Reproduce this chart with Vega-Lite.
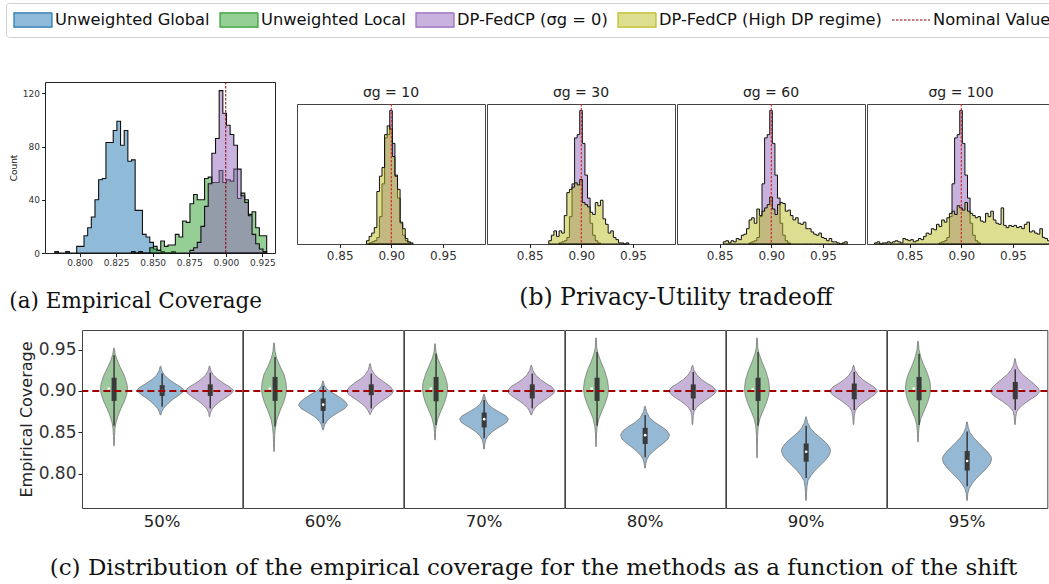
{
"$schema": "https://vega.github.io/schema/vega-lite/v6.json",
"padding": {"left": 5, "top": 2, "right": 0, "bottom": 0},
"config": {
  "font": "DejaVu Sans",
  "view": {"stroke": "#222", "strokeWidth": 1},
  "axis": {"grid": false, "labelColor": "#333", "titleColor": "#222", "tickColor": "#222", "domainColor": "#222", "titleFontWeight": "normal", "labelFont": "DejaVu Sans", "titleFont": "DejaVu Sans"}
},
"resolve": {"scale": {"color": "shared"}},
"spacing": 16,
"datasets": {
  "aBlue": [{"coverage":0.783,"count":1},{"coverage":0.7855,"count":0},{"coverage":0.7905,"count":1},{"coverage":0.793,"count":0},{"coverage":0.798,"count":5},{"coverage":0.8005,"count":5},{"coverage":0.803,"count":13},{"coverage":0.8055,"count":19},{"coverage":0.808,"count":27},{"coverage":0.8105,"count":40},{"coverage":0.813,"count":55},{"coverage":0.8155,"count":56},{"coverage":0.818,"count":83},{"coverage":0.8205,"count":83},{"coverage":0.823,"count":92},{"coverage":0.8255,"count":99},{"coverage":0.828,"count":81},{"coverage":0.8305,"count":92},{"coverage":0.833,"count":69},{"coverage":0.8355,"count":70},{"coverage":0.838,"count":32},{"coverage":0.8405,"count":32},{"coverage":0.843,"count":14},{"coverage":0.8455,"count":12},{"coverage":0.848,"count":8},{"coverage":0.8505,"count":3},{"coverage":0.853,"count":2},{"coverage":0.8555,"count":1},{"coverage":0.858,"count":0},{"coverage":0.863,"count":1},{"coverage":0.8655,"count":0}],
  "aGreen": [{"coverage":0.8355,"count":1},{"coverage":0.838,"count":0},{"coverage":0.8405,"count":1},{"coverage":0.843,"count":0},{"coverage":0.848,"count":4},{"coverage":0.8505,"count":5},{"coverage":0.853,"count":2},{"coverage":0.8555,"count":9},{"coverage":0.858,"count":5},{"coverage":0.8605,"count":6},{"coverage":0.863,"count":6},{"coverage":0.8655,"count":14},{"coverage":0.868,"count":12},{"coverage":0.8705,"count":24},{"coverage":0.873,"count":23},{"coverage":0.8755,"count":37},{"coverage":0.878,"count":44},{"coverage":0.8805,"count":40},{"coverage":0.883,"count":40},{"coverage":0.8855,"count":56},{"coverage":0.888,"count":57},{"coverage":0.8905,"count":53},{"coverage":0.893,"count":53},{"coverage":0.8955,"count":62},{"coverage":0.898,"count":53},{"coverage":0.9005,"count":55},{"coverage":0.903,"count":54},{"coverage":0.9055,"count":63},{"coverage":0.908,"count":41},{"coverage":0.9105,"count":45},{"coverage":0.913,"count":40},{"coverage":0.9155,"count":29},{"coverage":0.918,"count":31},{"coverage":0.9205,"count":19},{"coverage":0.923,"count":13},{"coverage":0.9255,"count":13},{"coverage":0.928,"count":0}],
  "aPurple": [{"coverage":0.8755,"count":2},{"coverage":0.878,"count":4},{"coverage":0.8805,"count":8},{"coverage":0.883,"count":20},{"coverage":0.8855,"count":35},{"coverage":0.888,"count":52},{"coverage":0.8905,"count":75},{"coverage":0.893,"count":86},{"coverage":0.8955,"count":122},{"coverage":0.898,"count":105},{"coverage":0.9005,"count":96},{"coverage":0.903,"count":89},{"coverage":0.9055,"count":81},{"coverage":0.908,"count":63},{"coverage":0.9105,"count":43},{"coverage":0.913,"count":38},{"coverage":0.9155,"count":28},{"coverage":0.918,"count":14},{"coverage":0.9205,"count":7},{"coverage":0.923,"count":3},{"coverage":0.9255,"count":1},{"coverage":0.928,"count":0}],
  "bPurple": [{"coverage":0.8785,"count":1},{"coverage":0.881,"count":2},{"coverage":0.8835,"count":3},{"coverage":0.886,"count":6},{"coverage":0.8885,"count":25},{"coverage":0.891,"count":55},{"coverage":0.8935,"count":97},{"coverage":0.896,"count":100},{"coverage":0.8985,"count":122},{"coverage":0.901,"count":92},{"coverage":0.9035,"count":63},{"coverage":0.906,"count":42},{"coverage":0.9085,"count":19},{"coverage":0.911,"count":8},{"coverage":0.9135,"count":3},{"coverage":0.916,"count":1},{"coverage":0.9185,"count":0}],
  "b10": [{"coverage":0.876,"count":3},{"coverage":0.8785,"count":7},{"coverage":0.881,"count":10},{"coverage":0.8835,"count":15},{"coverage":0.886,"count":48},{"coverage":0.8885,"count":62},{"coverage":0.891,"count":70},{"coverage":0.8935,"count":100},{"coverage":0.896,"count":108},{"coverage":0.8985,"count":105},{"coverage":0.901,"count":80},{"coverage":0.9035,"count":62},{"coverage":0.906,"count":50},{"coverage":0.9085,"count":20},{"coverage":0.911,"count":14},{"coverage":0.9135,"count":5},{"coverage":0.916,"count":2},{"coverage":0.9185,"count":1},{"coverage":0.921,"count":0}],
  "b30": [{"coverage":0.8685,"count":3},{"coverage":0.871,"count":8},{"coverage":0.8735,"count":12},{"coverage":0.876,"count":7},{"coverage":0.8785,"count":12},{"coverage":0.881,"count":10},{"coverage":0.8835,"count":26},{"coverage":0.886,"count":47},{"coverage":0.8885,"count":50},{"coverage":0.891,"count":52},{"coverage":0.8935,"count":56},{"coverage":0.896,"count":54},{"coverage":0.8985,"count":59},{"coverage":0.901,"count":38},{"coverage":0.9035,"count":36},{"coverage":0.906,"count":34},{"coverage":0.9085,"count":29},{"coverage":0.911,"count":27},{"coverage":0.9135,"count":38},{"coverage":0.916,"count":35},{"coverage":0.9185,"count":40},{"coverage":0.921,"count":23},{"coverage":0.9235,"count":18},{"coverage":0.926,"count":10},{"coverage":0.9285,"count":12},{"coverage":0.931,"count":6},{"coverage":0.9335,"count":4},{"coverage":0.936,"count":1},{"coverage":0.9385,"count":1},{"coverage":0.941,"count":0},{"coverage":0.9435,"count":1},{"coverage":0.946,"count":0}],
  "b60": [{"coverage":0.8535,"count":2},{"coverage":0.856,"count":3},{"coverage":0.8585,"count":1},{"coverage":0.861,"count":3},{"coverage":0.8635,"count":2},{"coverage":0.866,"count":5},{"coverage":0.8685,"count":4},{"coverage":0.871,"count":8},{"coverage":0.8735,"count":9},{"coverage":0.876,"count":14},{"coverage":0.8785,"count":22},{"coverage":0.881,"count":24},{"coverage":0.8835,"count":19},{"coverage":0.886,"count":32},{"coverage":0.8885,"count":26},{"coverage":0.891,"count":30},{"coverage":0.8935,"count":33},{"coverage":0.896,"count":36},{"coverage":0.8985,"count":43},{"coverage":0.901,"count":32},{"coverage":0.9035,"count":27},{"coverage":0.906,"count":36},{"coverage":0.9085,"count":38},{"coverage":0.911,"count":37},{"coverage":0.9135,"count":30},{"coverage":0.916,"count":31},{"coverage":0.9185,"count":26},{"coverage":0.921,"count":22},{"coverage":0.9235,"count":24},{"coverage":0.926,"count":19},{"coverage":0.9285,"count":18},{"coverage":0.931,"count":20},{"coverage":0.9335,"count":14},{"coverage":0.936,"count":14},{"coverage":0.9385,"count":11},{"coverage":0.941,"count":9},{"coverage":0.9435,"count":8},{"coverage":0.946,"count":10},{"coverage":0.9485,"count":6},{"coverage":0.951,"count":5},{"coverage":0.9535,"count":3},{"coverage":0.956,"count":5},{"coverage":0.9585,"count":2},{"coverage":0.961,"count":2},{"coverage":0.9635,"count":1},{"coverage":0.966,"count":0},{"coverage":0.9685,"count":1},{"coverage":0.971,"count":2},{"coverage":0.9735,"count":0}],
  "b100": [{"coverage":0.816,"count":1},{"coverage":0.8185,"count":2},{"coverage":0.821,"count":0},{"coverage":0.8235,"count":1},{"coverage":0.826,"count":1},{"coverage":0.8285,"count":2},{"coverage":0.831,"count":1},{"coverage":0.8335,"count":2},{"coverage":0.836,"count":3},{"coverage":0.8385,"count":2},{"coverage":0.841,"count":1},{"coverage":0.8435,"count":5},{"coverage":0.846,"count":4},{"coverage":0.8485,"count":3},{"coverage":0.851,"count":4},{"coverage":0.8535,"count":2},{"coverage":0.856,"count":3},{"coverage":0.8585,"count":5},{"coverage":0.861,"count":4},{"coverage":0.8635,"count":7},{"coverage":0.866,"count":10},{"coverage":0.8685,"count":9},{"coverage":0.871,"count":14},{"coverage":0.8735,"count":13},{"coverage":0.876,"count":18},{"coverage":0.8785,"count":16},{"coverage":0.881,"count":22},{"coverage":0.8835,"count":20},{"coverage":0.886,"count":24},{"coverage":0.8885,"count":28},{"coverage":0.891,"count":30},{"coverage":0.8935,"count":27},{"coverage":0.896,"count":35},{"coverage":0.8985,"count":33},{"coverage":0.901,"count":31},{"coverage":0.9035,"count":38},{"coverage":0.906,"count":30},{"coverage":0.9085,"count":28},{"coverage":0.911,"count":26},{"coverage":0.9135,"count":24},{"coverage":0.916,"count":25},{"coverage":0.9185,"count":21},{"coverage":0.921,"count":20},{"coverage":0.9235,"count":28},{"coverage":0.926,"count":25},{"coverage":0.9285,"count":30},{"coverage":0.931,"count":22},{"coverage":0.9335,"count":19},{"coverage":0.936,"count":18},{"coverage":0.9385,"count":33},{"coverage":0.941,"count":17},{"coverage":0.9435,"count":15},{"coverage":0.946,"count":17},{"coverage":0.9485,"count":16},{"coverage":0.951,"count":17},{"coverage":0.9535,"count":15},{"coverage":0.956,"count":16},{"coverage":0.9585,"count":14},{"coverage":0.961,"count":18},{"coverage":0.9635,"count":20},{"coverage":0.966,"count":11},{"coverage":0.9685,"count":12},{"coverage":0.971,"count":10},{"coverage":0.9735,"count":9},{"coverage":0.976,"count":14},{"coverage":0.9785,"count":6},{"coverage":0.981,"count":5},{"coverage":0.9835,"count":3},{"coverage":0.986,"count":2},{"coverage":0.9885,"count":0}],
  "violin": [
{"shift":"50%","method":"local","coverage":0.9517,"density":0.5},{"shift":"50%","method":"local","coverage":0.944,"density":2.5},{"shift":"50%","method":"local","coverage":0.936,"density":7},{"shift":"50%","method":"local","coverage":0.928,"density":13},{"shift":"50%","method":"local","coverage":0.918,"density":21},{"shift":"50%","method":"local","coverage":0.908,"density":26},{"shift":"50%","method":"local","coverage":0.903,"density":27},{"shift":"50%","method":"local","coverage":0.896,"density":25.5},{"shift":"50%","method":"local","coverage":0.888,"density":21},{"shift":"50%","method":"local","coverage":0.879,"density":14},{"shift":"50%","method":"local","coverage":0.870,"density":8},{"shift":"50%","method":"local","coverage":0.862,"density":4},{"shift":"50%","method":"local","coverage":0.855,"density":2},{"shift":"50%","method":"local","coverage":0.845,"density":1},{"shift":"50%","method":"local","coverage":0.834,"density":0.5},
{"shift":"50%","method":"global","coverage":0.930,"density":0.5},{"shift":"50%","method":"global","coverage":0.924,"density":3},{"shift":"50%","method":"global","coverage":0.919,"density":8},{"shift":"50%","method":"global","coverage":0.914,"density":17},{"shift":"50%","method":"global","coverage":0.909,"density":29},{"shift":"50%","method":"global","coverage":0.905,"density":40},{"shift":"50%","method":"global","coverage":0.902,"density":46},{"shift":"50%","method":"global","coverage":0.899,"density":45},{"shift":"50%","method":"global","coverage":0.895,"density":37},{"shift":"50%","method":"global","coverage":0.891,"density":27},{"shift":"50%","method":"global","coverage":0.887,"density":19},{"shift":"50%","method":"global","coverage":0.883,"density":12},{"shift":"50%","method":"global","coverage":0.879,"density":6},{"shift":"50%","method":"global","coverage":0.875,"density":2.5},{"shift":"50%","method":"global","coverage":0.871,"density":0.5},
{"shift":"50%","method":"dp","coverage":0.930,"density":0.5},{"shift":"50%","method":"dp","coverage":0.924,"density":3},{"shift":"50%","method":"dp","coverage":0.919,"density":8},{"shift":"50%","method":"dp","coverage":0.914,"density":17},{"shift":"50%","method":"dp","coverage":0.909,"density":29},{"shift":"50%","method":"dp","coverage":0.905,"density":40},{"shift":"50%","method":"dp","coverage":0.901,"density":48},{"shift":"50%","method":"dp","coverage":0.897,"density":44},{"shift":"50%","method":"dp","coverage":0.893,"density":35},{"shift":"50%","method":"dp","coverage":0.889,"density":25},{"shift":"50%","method":"dp","coverage":0.885,"density":16},{"shift":"50%","method":"dp","coverage":0.881,"density":9},{"shift":"50%","method":"dp","coverage":0.877,"density":4},{"shift":"50%","method":"dp","coverage":0.873,"density":1.5},{"shift":"50%","method":"dp","coverage":0.869,"density":0.5},
{"shift":"60%","method":"local","coverage":0.958,"density":0.5},{"shift":"60%","method":"local","coverage":0.948,"density":2},{"shift":"60%","method":"local","coverage":0.940,"density":5},{"shift":"60%","method":"local","coverage":0.930,"density":12},{"shift":"60%","method":"local","coverage":0.920,"density":20},{"shift":"60%","method":"local","coverage":0.910,"density":24},{"shift":"60%","method":"local","coverage":0.903,"density":25},{"shift":"60%","method":"local","coverage":0.895,"density":23.5},{"shift":"60%","method":"local","coverage":0.886,"density":19},{"shift":"60%","method":"local","coverage":0.876,"density":12},{"shift":"60%","method":"local","coverage":0.866,"density":6},{"shift":"60%","method":"local","coverage":0.857,"density":3},{"shift":"60%","method":"local","coverage":0.848,"density":1.5},{"shift":"60%","method":"local","coverage":0.838,"density":1},{"shift":"60%","method":"local","coverage":0.827,"density":0.5},
{"shift":"60%","method":"global","coverage":0.912,"density":0.5},{"shift":"60%","method":"global","coverage":0.906,"density":3},{"shift":"60%","method":"global","coverage":0.901,"density":10},{"shift":"60%","method":"global","coverage":0.896,"density":24},{"shift":"60%","method":"global","coverage":0.891,"density":37},{"shift":"60%","method":"global","coverage":0.887,"density":45},{"shift":"60%","method":"global","coverage":0.883,"density":49},{"shift":"60%","method":"global","coverage":0.879,"density":44},{"shift":"60%","method":"global","coverage":0.875,"density":33},{"shift":"60%","method":"global","coverage":0.871,"density":22},{"shift":"60%","method":"global","coverage":0.867,"density":13},{"shift":"60%","method":"global","coverage":0.863,"density":7},{"shift":"60%","method":"global","coverage":0.859,"density":3},{"shift":"60%","method":"global","coverage":0.853,"density":0.5},
{"shift":"60%","method":"dp","coverage":0.933,"density":0.5},{"shift":"60%","method":"dp","coverage":0.926,"density":3},{"shift":"60%","method":"dp","coverage":0.920,"density":9},{"shift":"60%","method":"dp","coverage":0.915,"density":18},{"shift":"60%","method":"dp","coverage":0.910,"density":30},{"shift":"60%","method":"dp","coverage":0.905,"density":41},{"shift":"60%","method":"dp","coverage":0.900,"density":47},{"shift":"60%","method":"dp","coverage":0.896,"density":43},{"shift":"60%","method":"dp","coverage":0.892,"density":34},{"shift":"60%","method":"dp","coverage":0.888,"density":24},{"shift":"60%","method":"dp","coverage":0.884,"density":15},{"shift":"60%","method":"dp","coverage":0.880,"density":8},{"shift":"60%","method":"dp","coverage":0.876,"density":3.5},{"shift":"60%","method":"dp","coverage":0.8716,"density":0.5},
{"shift":"70%","method":"local","coverage":0.957,"density":0.5},{"shift":"70%","method":"local","coverage":0.947,"density":2},{"shift":"70%","method":"local","coverage":0.940,"density":5},{"shift":"70%","method":"local","coverage":0.930,"density":12},{"shift":"70%","method":"local","coverage":0.920,"density":19},{"shift":"70%","method":"local","coverage":0.910,"density":24},{"shift":"70%","method":"local","coverage":0.903,"density":25},{"shift":"70%","method":"local","coverage":0.895,"density":23.5},{"shift":"70%","method":"local","coverage":0.886,"density":19},{"shift":"70%","method":"local","coverage":0.876,"density":12},{"shift":"70%","method":"local","coverage":0.867,"density":6},{"shift":"70%","method":"local","coverage":0.859,"density":2.5},{"shift":"70%","method":"local","coverage":0.850,"density":1},{"shift":"70%","method":"local","coverage":0.841,"density":0.5},
{"shift":"70%","method":"global","coverage":0.896,"density":0.5},{"shift":"70%","method":"global","coverage":0.890,"density":3},{"shift":"70%","method":"global","coverage":0.884,"density":8},{"shift":"70%","method":"global","coverage":0.879,"density":18},{"shift":"70%","method":"global","coverage":0.874,"density":32},{"shift":"70%","method":"global","coverage":0.870,"density":44},{"shift":"70%","method":"global","coverage":0.866,"density":49},{"shift":"70%","method":"global","coverage":0.862,"density":45},{"shift":"70%","method":"global","coverage":0.858,"density":35},{"shift":"70%","method":"global","coverage":0.854,"density":24},{"shift":"70%","method":"global","coverage":0.850,"density":15},{"shift":"70%","method":"global","coverage":0.846,"density":8},{"shift":"70%","method":"global","coverage":0.841,"density":3.5},{"shift":"70%","method":"global","coverage":0.836,"density":1.5},{"shift":"70%","method":"global","coverage":0.830,"density":0.5},
{"shift":"70%","method":"dp","coverage":0.931,"density":0.5},{"shift":"70%","method":"dp","coverage":0.925,"density":3},{"shift":"70%","method":"dp","coverage":0.919,"density":9},{"shift":"70%","method":"dp","coverage":0.914,"density":18},{"shift":"70%","method":"dp","coverage":0.909,"density":30},{"shift":"70%","method":"dp","coverage":0.905,"density":41},{"shift":"70%","method":"dp","coverage":0.900,"density":47.5},{"shift":"70%","method":"dp","coverage":0.896,"density":43},{"shift":"70%","method":"dp","coverage":0.892,"density":34},{"shift":"70%","method":"dp","coverage":0.888,"density":24},{"shift":"70%","method":"dp","coverage":0.884,"density":15},{"shift":"70%","method":"dp","coverage":0.880,"density":8},{"shift":"70%","method":"dp","coverage":0.876,"density":3.5},{"shift":"70%","method":"dp","coverage":0.871,"density":0.5},
{"shift":"80%","method":"local","coverage":0.964,"density":0.5},{"shift":"80%","method":"local","coverage":0.952,"density":1.5},{"shift":"80%","method":"local","coverage":0.945,"density":4},{"shift":"80%","method":"local","coverage":0.935,"density":10},{"shift":"80%","method":"local","coverage":0.925,"density":17},{"shift":"80%","method":"local","coverage":0.913,"density":23},{"shift":"80%","method":"local","coverage":0.903,"density":25},{"shift":"80%","method":"local","coverage":0.895,"density":23.5},{"shift":"80%","method":"local","coverage":0.886,"density":19},{"shift":"80%","method":"local","coverage":0.876,"density":12},{"shift":"80%","method":"local","coverage":0.867,"density":6},{"shift":"80%","method":"local","coverage":0.858,"density":2.5},{"shift":"80%","method":"local","coverage":0.848,"density":1},{"shift":"80%","method":"local","coverage":0.833,"density":0.5},
{"shift":"80%","method":"global","coverage":0.8816,"density":0.5},{"shift":"80%","method":"global","coverage":0.875,"density":3},{"shift":"80%","method":"global","coverage":0.868,"density":9},{"shift":"80%","method":"global","coverage":0.862,"density":20},{"shift":"80%","method":"global","coverage":0.857,"density":33},{"shift":"80%","method":"global","coverage":0.852,"density":44},{"shift":"80%","method":"global","coverage":0.847,"density":49},{"shift":"80%","method":"global","coverage":0.842,"density":46},{"shift":"80%","method":"global","coverage":0.837,"density":37},{"shift":"80%","method":"global","coverage":0.832,"density":26},{"shift":"80%","method":"global","coverage":0.827,"density":16},{"shift":"80%","method":"global","coverage":0.822,"density":8},{"shift":"80%","method":"global","coverage":0.817,"density":3.5},{"shift":"80%","method":"global","coverage":0.812,"density":1.5},{"shift":"80%","method":"global","coverage":0.807,"density":0.5},
{"shift":"80%","method":"dp","coverage":0.931,"density":0.5},{"shift":"80%","method":"dp","coverage":0.925,"density":3},{"shift":"80%","method":"dp","coverage":0.919,"density":9},{"shift":"80%","method":"dp","coverage":0.914,"density":18},{"shift":"80%","method":"dp","coverage":0.909,"density":30},{"shift":"80%","method":"dp","coverage":0.905,"density":41},{"shift":"80%","method":"dp","coverage":0.900,"density":48},{"shift":"80%","method":"dp","coverage":0.896,"density":43},{"shift":"80%","method":"dp","coverage":0.892,"density":34},{"shift":"80%","method":"dp","coverage":0.888,"density":24},{"shift":"80%","method":"dp","coverage":0.884,"density":15},{"shift":"80%","method":"dp","coverage":0.880,"density":8},{"shift":"80%","method":"dp","coverage":0.876,"density":3.5},{"shift":"80%","method":"dp","coverage":0.870,"density":1.5},{"shift":"80%","method":"dp","coverage":0.865,"density":1},{"shift":"80%","method":"dp","coverage":0.8595,"density":0.5},
{"shift":"90%","method":"local","coverage":0.964,"density":0.5},{"shift":"90%","method":"local","coverage":0.952,"density":1.5},{"shift":"90%","method":"local","coverage":0.945,"density":4},{"shift":"90%","method":"local","coverage":0.935,"density":10},{"shift":"90%","method":"local","coverage":0.925,"density":17},{"shift":"90%","method":"local","coverage":0.913,"density":23},{"shift":"90%","method":"local","coverage":0.903,"density":25},{"shift":"90%","method":"local","coverage":0.895,"density":23.5},{"shift":"90%","method":"local","coverage":0.886,"density":19},{"shift":"90%","method":"local","coverage":0.876,"density":12},{"shift":"90%","method":"local","coverage":0.867,"density":6},{"shift":"90%","method":"local","coverage":0.858,"density":2.5},{"shift":"90%","method":"local","coverage":0.845,"density":1},{"shift":"90%","method":"local","coverage":0.832,"density":0.7},{"shift":"90%","method":"local","coverage":0.8195,"density":0.5},
{"shift":"90%","method":"global","coverage":0.8688,"density":0.5},{"shift":"90%","method":"global","coverage":0.862,"density":3},{"shift":"90%","method":"global","coverage":0.855,"density":9},{"shift":"90%","method":"global","coverage":0.849,"density":18},{"shift":"90%","method":"global","coverage":0.843,"density":30},{"shift":"90%","method":"global","coverage":0.837,"density":41},{"shift":"90%","method":"global","coverage":0.831,"density":48},{"shift":"90%","method":"global","coverage":0.827,"density":49},{"shift":"90%","method":"global","coverage":0.822,"density":46},{"shift":"90%","method":"global","coverage":0.816,"density":38},{"shift":"90%","method":"global","coverage":0.810,"density":28},{"shift":"90%","method":"global","coverage":0.804,"density":18},{"shift":"90%","method":"global","coverage":0.798,"density":10},{"shift":"90%","method":"global","coverage":0.792,"density":4},{"shift":"90%","method":"global","coverage":0.785,"density":2},{"shift":"90%","method":"global","coverage":0.776,"density":1},{"shift":"90%","method":"global","coverage":0.768,"density":0.5},
{"shift":"90%","method":"dp","coverage":0.931,"density":0.5},{"shift":"90%","method":"dp","coverage":0.925,"density":3},{"shift":"90%","method":"dp","coverage":0.919,"density":9},{"shift":"90%","method":"dp","coverage":0.914,"density":18},{"shift":"90%","method":"dp","coverage":0.909,"density":30},{"shift":"90%","method":"dp","coverage":0.905,"density":41},{"shift":"90%","method":"dp","coverage":0.900,"density":48},{"shift":"90%","method":"dp","coverage":0.896,"density":43},{"shift":"90%","method":"dp","coverage":0.892,"density":34},{"shift":"90%","method":"dp","coverage":0.888,"density":24},{"shift":"90%","method":"dp","coverage":0.884,"density":15},{"shift":"90%","method":"dp","coverage":0.880,"density":8},{"shift":"90%","method":"dp","coverage":0.876,"density":3.5},{"shift":"90%","method":"dp","coverage":0.870,"density":1.5},{"shift":"90%","method":"dp","coverage":0.865,"density":1},{"shift":"90%","method":"dp","coverage":0.8595,"density":0.5},
{"shift":"95%","method":"local","coverage":0.960,"density":0.5},{"shift":"95%","method":"local","coverage":0.950,"density":2},{"shift":"95%","method":"local","coverage":0.942,"density":5},{"shift":"95%","method":"local","coverage":0.932,"density":11},{"shift":"95%","method":"local","coverage":0.921,"density":19},{"shift":"95%","method":"local","coverage":0.911,"density":24},{"shift":"95%","method":"local","coverage":0.903,"density":25},{"shift":"95%","method":"local","coverage":0.895,"density":23.5},{"shift":"95%","method":"local","coverage":0.886,"density":19},{"shift":"95%","method":"local","coverage":0.876,"density":12},{"shift":"95%","method":"local","coverage":0.867,"density":6},{"shift":"95%","method":"local","coverage":0.859,"density":2.5},{"shift":"95%","method":"local","coverage":0.849,"density":1},{"shift":"95%","method":"local","coverage":0.8387,"density":0.5},
{"shift":"95%","method":"global","coverage":0.8627,"density":0.5},{"shift":"95%","method":"global","coverage":0.856,"density":2.5},{"shift":"95%","method":"global","coverage":0.850,"density":6},{"shift":"95%","method":"global","coverage":0.844,"density":13},{"shift":"95%","method":"global","coverage":0.838,"density":22},{"shift":"95%","method":"global","coverage":0.832,"density":32},{"shift":"95%","method":"global","coverage":0.826,"density":42},{"shift":"95%","method":"global","coverage":0.821,"density":48},{"shift":"95%","method":"global","coverage":0.817,"density":49},{"shift":"95%","method":"global","coverage":0.812,"density":46},{"shift":"95%","method":"global","coverage":0.806,"density":38},{"shift":"95%","method":"global","coverage":0.800,"density":28},{"shift":"95%","method":"global","coverage":0.794,"density":18},{"shift":"95%","method":"global","coverage":0.788,"density":10},{"shift":"95%","method":"global","coverage":0.782,"density":4},{"shift":"95%","method":"global","coverage":0.776,"density":1.5},{"shift":"95%","method":"global","coverage":0.768,"density":0.5},
{"shift":"95%","method":"dp","coverage":0.939,"density":0.5},{"shift":"95%","method":"dp","coverage":0.932,"density":2.5},{"shift":"95%","method":"dp","coverage":0.926,"density":7},{"shift":"95%","method":"dp","coverage":0.920,"density":15},{"shift":"95%","method":"dp","coverage":0.914,"density":27},{"shift":"95%","method":"dp","coverage":0.908,"density":39},{"shift":"95%","method":"dp","coverage":0.903,"density":47},{"shift":"95%","method":"dp","coverage":0.899,"density":49},{"shift":"95%","method":"dp","coverage":0.895,"density":44},{"shift":"95%","method":"dp","coverage":0.891,"density":34},{"shift":"95%","method":"dp","coverage":0.887,"density":24},{"shift":"95%","method":"dp","coverage":0.883,"density":15},{"shift":"95%","method":"dp","coverage":0.879,"density":8},{"shift":"95%","method":"dp","coverage":0.875,"density":3.5},{"shift":"95%","method":"dp","coverage":0.869,"density":1.5},{"shift":"95%","method":"dp","coverage":0.8595,"density":0.5},
{"shift":"50%","method":"local","lo":0.858,"q1":0.888,"med":0.903,"q3":0.916,"hi":0.943},
{"shift":"50%","method":"global","lo":0.881,"q1":0.894,"med":0.900,"q3":0.907,"hi":0.921},
{"shift":"50%","method":"dp","lo":0.879,"q1":0.894,"med":0.900,"q3":0.908,"hi":0.922},
{"shift":"60%","method":"local","lo":0.857,"q1":0.888,"med":0.903,"q3":0.917,"hi":0.941},
{"shift":"60%","method":"global","lo":0.861,"q1":0.876,"med":0.8835,"q3":0.891,"hi":0.906},
{"shift":"60%","method":"dp","lo":0.879,"q1":0.895,"med":0.900,"q3":0.908,"hi":0.921},
{"shift":"70%","method":"local","lo":0.859,"q1":0.8876,"med":0.9028,"q3":0.917,"hi":0.945},
{"shift":"70%","method":"global","lo":0.843,"q1":0.856,"med":0.866,"q3":0.874,"hi":0.889},
{"shift":"70%","method":"dp","lo":0.879,"q1":0.891,"med":0.900,"q3":0.908,"hi":0.921},
{"shift":"80%","method":"local","lo":0.858,"q1":0.888,"med":0.9028,"q3":0.916,"hi":0.947},
{"shift":"80%","method":"global","lo":0.820,"q1":0.836,"med":0.8467,"q3":0.8555,"hi":0.871},
{"shift":"80%","method":"dp","lo":0.877,"q1":0.891,"med":0.900,"q3":0.908,"hi":0.923},
{"shift":"90%","method":"local","lo":0.858,"q1":0.888,"med":0.902,"q3":0.916,"hi":0.947},
{"shift":"90%","method":"global","lo":0.795,"q1":0.8147,"med":0.8267,"q3":0.8367,"hi":0.858},
{"shift":"90%","method":"dp","lo":0.877,"q1":0.890,"med":0.900,"q3":0.909,"hi":0.923},
{"shift":"95%","method":"local","lo":0.859,"q1":0.8888,"med":0.9028,"q3":0.917,"hi":0.945},
{"shift":"95%","method":"global","lo":0.785,"q1":0.804,"med":0.8155,"q3":0.8275,"hi":0.851},
{"shift":"95%","method":"dp","lo":0.877,"q1":0.890,"med":0.9012,"q3":0.911,"hi":0.926}
  ]
},
"vconcat": [
 {"hconcat": [
  {"width": 230, "height": 171,
   "title": {"text": "(a) Empirical Coverage", "orient": "bottom", "anchor": "start", "frame": "bounds", "font": "DejaVu Serif", "fontSize": 21.5, "fontWeight": "normal", "offset": 23, "color": "#111"},
   "layer": [
    {"data": {"name": "aBlue"}, "mark": {"type": "area", "interpolate": "step-after", "fillOpacity": 0.5, "stroke": "#111", "strokeWidth": 1.1},
     "encoding": {
      "x": {"field": "coverage", "type": "quantitative", "scale": {"domain": [0.7763, 0.9337], "nice": false, "zero": false}, "axis": {"values": [0.8, 0.825, 0.85, 0.875, 0.9, 0.925], "format": ".3f", "labelFontSize": 9, "tickSize": 3.5, "title": null, "domain": false, "labelPadding": 2}},
      "y": {"field": "count", "type": "quantitative", "scale": {"domain": [0, 128.5], "nice": false}, "axis": {"values": [0, 20, 40, 60, 80, 100, 120], "labelFontSize": 9, "tickSize": 3.5, "title": "Count", "titleFontSize": 9, "titlePadding": 4, "domain": false, "labelPadding": 2}},
      "color": {"datum": "Unweighted Global", "type": "nominal",
        "scale": {"domain": ["Unweighted Global", "Unweighted Local", "DP-FedCP (σg = 0)", "DP-FedCP (High DP regime)", "Nominal Value"], "range": ["#1f77b4", "#2ca02c", "#9467bd", "#bcbd22", "#8b0000"]},
        "legend": {"orient": "none", "legendX": -39, "legendY": -79, "direction": "horizontal", "title": null, "labelFontSize": 16.3, "labelFont": "DejaVu Sans", "labelColor": "#111", "labelLimit": 400, "labelOffset": 2, "columnPadding": 9, "padding": 7, "clipHeight": 20, "strokeColor": "#d0d0d0", "fillColor": "#ffffff", "cornerRadius": 3, "symbolType": "M-1,-0.37H1V0.37H-1Z", "symbolSize": 1444, "symbolStrokeWidth": 1.2, "symbolStrokeColor": "#222",
          "encode": {"symbols": {"update": {
            "shape": {"signal": "datum.value === 'Nominal Value' ? 'M-1,0H1' : 'M-1,-0.37H1V0.37H-1Z'"},
            "fillOpacity": {"value": 0.5},
            "opacity": {"value": 1},
            "stroke": {"signal": "datum.value === 'Nominal Value' ? '#8b0000' : '#222'"},
            "strokeDash": {"signal": "datum.value === 'Nominal Value' ? [2.5, 1.5] : [1, 0]"},
            "strokeWidth": {"value": 1.2}}}}}}
     }},
    {"data": {"name": "aGreen"}, "mark": {"type": "area", "interpolate": "step-after", "fillOpacity": 0.5, "stroke": "#111", "strokeWidth": 1.1},
     "encoding": {
      "x": {"field": "coverage", "type": "quantitative", "scale": {"domain": [0.7763, 0.9337], "nice": false, "zero": false}},
      "y": {"field": "count", "type": "quantitative", "scale": {"domain": [0, 128.5], "nice": false}},
      "color": {"datum": "Unweighted Local", "type": "nominal", "scale": {"domain": ["Unweighted Global", "Unweighted Local", "DP-FedCP (σg = 0)", "DP-FedCP (High DP regime)", "Nominal Value"], "range": ["#1f77b4", "#2ca02c", "#9467bd", "#bcbd22", "#8b0000"]}}
     }},
    {"data": {"name": "aPurple"}, "mark": {"type": "area", "interpolate": "step-after", "fillOpacity": 0.5, "stroke": "#111", "strokeWidth": 1.1},
     "encoding": {
      "x": {"field": "coverage", "type": "quantitative", "scale": {"domain": [0.7763, 0.9337], "nice": false, "zero": false}},
      "y": {"field": "count", "type": "quantitative", "scale": {"domain": [0, 128.5], "nice": false}},
      "color": {"datum": "DP-FedCP (σg = 0)", "type": "nominal", "scale": {"domain": ["Unweighted Global", "Unweighted Local", "DP-FedCP (σg = 0)", "DP-FedCP (High DP regime)", "Nominal Value"], "range": ["#1f77b4", "#2ca02c", "#9467bd", "#bcbd22", "#8b0000"]}}
     }},
    {"data": {"values": [{}]}, "mark": {"type": "rule", "strokeDash": [2.5, 1.5], "strokeWidth": 1},
     "encoding": {
      "x": {"datum": 0.9, "type": "quantitative", "scale": {"domain": [0.7763, 0.9337], "nice": false, "zero": false}},
      "color": {"datum": "Nominal Value", "type": "nominal", "scale": {"domain": ["Unweighted Global", "Unweighted Local", "DP-FedCP (σg = 0)", "DP-FedCP (High DP regime)", "Nominal Value"], "range": ["#1f77b4", "#2ca02c", "#9467bd", "#bcbd22", "#8b0000"]}}
     }}
   ]},
  {"vconcat": [
   {"width": 1, "height": 22, "data": {"values": []}, "mark": "point", "encoding": {}, "view": {"stroke": null}},
   {"title": {"text": "(b) Privacy-Utility tradeoff", "orient": "bottom", "anchor": "middle", "font": "DejaVu Serif", "fontSize": 23.5, "fontWeight": "normal", "offset": 24, "color": "#111"},
    "spacing": 0,
    "hconcat": [
     {"width": 188, "height": 140, "view": {"stroke": "#444"},
      "title": {"text": "σg = 10", "fontSize": 14, "font": "DejaVu Sans", "fontWeight": "normal", "offset": 3, "color": "#222"},
      "layer": [
       {"data": {"name": "bPurple"}, "mark": {"type": "area", "interpolate": "step-after", "fillOpacity": 0.5, "stroke": "#111", "strokeWidth": 1},
        "encoding": {"x": {"field": "coverage", "type": "quantitative", "scale": {"domain": [0.8087, 0.9907], "nice": false, "zero": false}, "axis": {"values": [0.85, 0.9, 0.95], "format": ".2f", "labelFontSize": 12, "tickSize": 3.5, "title": null, "domain": false, "labelPadding": 3}},
         "y": {"field": "count", "type": "quantitative", "scale": {"domain": [0, 128], "nice": false}, "axis": null},
         "color": {"datum": "DP-FedCP (σg = 0)", "type": "nominal", "scale": {"domain": ["Unweighted Global", "Unweighted Local", "DP-FedCP (σg = 0)", "DP-FedCP (High DP regime)", "Nominal Value"], "range": ["#1f77b4", "#2ca02c", "#9467bd", "#bcbd22", "#8b0000"]}}}},
       {"data": {"name": "b10"}, "mark": {"type": "area", "interpolate": "step-after", "fillOpacity": 0.5, "stroke": "#111", "strokeWidth": 1},
        "encoding": {"x": {"field": "coverage", "type": "quantitative", "scale": {"domain": [0.8087, 0.9907], "nice": false, "zero": false}},
         "y": {"field": "count", "type": "quantitative", "scale": {"domain": [0, 128], "nice": false}},
         "color": {"datum": "DP-FedCP (High DP regime)", "type": "nominal", "scale": {"domain": ["Unweighted Global", "Unweighted Local", "DP-FedCP (σg = 0)", "DP-FedCP (High DP regime)", "Nominal Value"], "range": ["#1f77b4", "#2ca02c", "#9467bd", "#bcbd22", "#8b0000"]}}}},
       {"data": {"values": [{}]}, "mark": {"type": "rule", "stroke": "#c83030", "strokeDash": [2.5, 1.5], "strokeWidth": 1.2},
        "encoding": {"x": {"datum": 0.9, "type": "quantitative", "scale": {"domain": [0.8087, 0.9907], "nice": false, "zero": false}}}}
      ]},
     {"width": 188, "height": 140, "view": {"stroke": "#444"},
      "title": {"text": "σg = 30", "fontSize": 14, "font": "DejaVu Sans", "fontWeight": "normal", "offset": 3, "color": "#222"},
      "layer": [
       {"data": {"name": "bPurple"}, "mark": {"type": "area", "interpolate": "step-after", "fillOpacity": 0.5, "stroke": "#111", "strokeWidth": 1},
        "encoding": {"x": {"field": "coverage", "type": "quantitative", "scale": {"domain": [0.8087, 0.9907], "nice": false, "zero": false}, "axis": {"values": [0.85, 0.9, 0.95], "format": ".2f", "labelFontSize": 12, "tickSize": 3.5, "title": null, "domain": false, "labelPadding": 3}},
         "y": {"field": "count", "type": "quantitative", "scale": {"domain": [0, 128], "nice": false}, "axis": null},
         "color": {"datum": "DP-FedCP (σg = 0)", "type": "nominal", "scale": {"domain": ["Unweighted Global", "Unweighted Local", "DP-FedCP (σg = 0)", "DP-FedCP (High DP regime)", "Nominal Value"], "range": ["#1f77b4", "#2ca02c", "#9467bd", "#bcbd22", "#8b0000"]}}}},
       {"data": {"name": "b30"}, "mark": {"type": "area", "interpolate": "step-after", "fillOpacity": 0.5, "stroke": "#111", "strokeWidth": 1},
        "encoding": {"x": {"field": "coverage", "type": "quantitative", "scale": {"domain": [0.8087, 0.9907], "nice": false, "zero": false}},
         "y": {"field": "count", "type": "quantitative", "scale": {"domain": [0, 128], "nice": false}},
         "color": {"datum": "DP-FedCP (High DP regime)", "type": "nominal", "scale": {"domain": ["Unweighted Global", "Unweighted Local", "DP-FedCP (σg = 0)", "DP-FedCP (High DP regime)", "Nominal Value"], "range": ["#1f77b4", "#2ca02c", "#9467bd", "#bcbd22", "#8b0000"]}}}},
       {"data": {"values": [{}]}, "mark": {"type": "rule", "stroke": "#c83030", "strokeDash": [2.5, 1.5], "strokeWidth": 1.2},
        "encoding": {"x": {"datum": 0.9, "type": "quantitative", "scale": {"domain": [0.8087, 0.9907], "nice": false, "zero": false}}}}
      ]},
     {"width": 188, "height": 140, "view": {"stroke": "#444"},
      "title": {"text": "σg = 60", "fontSize": 14, "font": "DejaVu Sans", "fontWeight": "normal", "offset": 3, "color": "#222"},
      "layer": [
       {"data": {"name": "bPurple"}, "mark": {"type": "area", "interpolate": "step-after", "fillOpacity": 0.5, "stroke": "#111", "strokeWidth": 1},
        "encoding": {"x": {"field": "coverage", "type": "quantitative", "scale": {"domain": [0.8087, 0.9907], "nice": false, "zero": false}, "axis": {"values": [0.85, 0.9, 0.95], "format": ".2f", "labelFontSize": 12, "tickSize": 3.5, "title": null, "domain": false, "labelPadding": 3}},
         "y": {"field": "count", "type": "quantitative", "scale": {"domain": [0, 128], "nice": false}, "axis": null},
         "color": {"datum": "DP-FedCP (σg = 0)", "type": "nominal", "scale": {"domain": ["Unweighted Global", "Unweighted Local", "DP-FedCP (σg = 0)", "DP-FedCP (High DP regime)", "Nominal Value"], "range": ["#1f77b4", "#2ca02c", "#9467bd", "#bcbd22", "#8b0000"]}}}},
       {"data": {"name": "b60"}, "mark": {"type": "area", "interpolate": "step-after", "fillOpacity": 0.5, "stroke": "#111", "strokeWidth": 1},
        "encoding": {"x": {"field": "coverage", "type": "quantitative", "scale": {"domain": [0.8087, 0.9907], "nice": false, "zero": false}},
         "y": {"field": "count", "type": "quantitative", "scale": {"domain": [0, 128], "nice": false}},
         "color": {"datum": "DP-FedCP (High DP regime)", "type": "nominal", "scale": {"domain": ["Unweighted Global", "Unweighted Local", "DP-FedCP (σg = 0)", "DP-FedCP (High DP regime)", "Nominal Value"], "range": ["#1f77b4", "#2ca02c", "#9467bd", "#bcbd22", "#8b0000"]}}}},
       {"data": {"values": [{}]}, "mark": {"type": "rule", "stroke": "#c83030", "strokeDash": [2.5, 1.5], "strokeWidth": 1.2},
        "encoding": {"x": {"datum": 0.9, "type": "quantitative", "scale": {"domain": [0.8087, 0.9907], "nice": false, "zero": false}}}}
      ]},
     {"width": 188, "height": 140, "view": {"stroke": "#444"},
      "title": {"text": "σg = 100", "fontSize": 14, "font": "DejaVu Sans", "fontWeight": "normal", "offset": 3, "color": "#222"},
      "layer": [
       {"data": {"name": "bPurple"}, "mark": {"type": "area", "interpolate": "step-after", "fillOpacity": 0.5, "stroke": "#111", "strokeWidth": 1},
        "encoding": {"x": {"field": "coverage", "type": "quantitative", "scale": {"domain": [0.8087, 0.9907], "nice": false, "zero": false}, "axis": {"values": [0.85, 0.9, 0.95], "format": ".2f", "labelFontSize": 12, "tickSize": 3.5, "title": null, "domain": false, "labelPadding": 3}},
         "y": {"field": "count", "type": "quantitative", "scale": {"domain": [0, 128], "nice": false}, "axis": null},
         "color": {"datum": "DP-FedCP (σg = 0)", "type": "nominal", "scale": {"domain": ["Unweighted Global", "Unweighted Local", "DP-FedCP (σg = 0)", "DP-FedCP (High DP regime)", "Nominal Value"], "range": ["#1f77b4", "#2ca02c", "#9467bd", "#bcbd22", "#8b0000"]}}}},
       {"data": {"name": "b100"}, "mark": {"type": "area", "interpolate": "step-after", "fillOpacity": 0.5, "stroke": "#111", "strokeWidth": 1},
        "encoding": {"x": {"field": "coverage", "type": "quantitative", "scale": {"domain": [0.8087, 0.9907], "nice": false, "zero": false}},
         "y": {"field": "count", "type": "quantitative", "scale": {"domain": [0, 128], "nice": false}},
         "color": {"datum": "DP-FedCP (High DP regime)", "type": "nominal", "scale": {"domain": ["Unweighted Global", "Unweighted Local", "DP-FedCP (σg = 0)", "DP-FedCP (High DP regime)", "Nominal Value"], "range": ["#1f77b4", "#2ca02c", "#9467bd", "#bcbd22", "#8b0000"]}}}},
       {"data": {"values": [{}]}, "mark": {"type": "rule", "stroke": "#c83030", "strokeDash": [2.5, 1.5], "strokeWidth": 1.2},
        "encoding": {"x": {"datum": 0.9, "type": "quantitative", "scale": {"domain": [0.8087, 0.9907], "nice": false, "zero": false}}}}
      ]}
    ]}
  ], "spacing": 0, "bounds": "flush"}
 ], "spacing": 20},
 {"hconcat": [
  {"width": 37, "height": 1, "data": {"values": []}, "mark": "point", "encoding": {}, "view": {"stroke": null}},
  {"data": {"name": "violin"},
   "title": {"text": "(c) Distribution of the empirical coverage for the methods as a function of the shift", "orient": "bottom", "anchor": "middle", "frame": "bounds", "font": "DejaVu Serif", "fontSize": 23, "fontWeight": "normal", "offset": 26, "color": "#111"},
   "facet": {"column": {"field": "shift", "type": "nominal", "sort": ["50%", "60%", "70%", "80%", "90%", "95%"], "header": {"title": null, "labelOrient": "bottom", "labelFontSize": 16.5, "labelFont": "DejaVu Sans", "labelColor": "#222", "labelPadding": 6}}},
   "spacing": 0,
   "bounds": "flush",
   "spec": {
    "width": 160.33, "height": 178,
    "view": {"stroke": "#444"},
    "resolve": {"scale": {"x": "independent"}},
    "layer": [
     {"transform": [{"filter": "datum.method === 'local' && isValid(datum.density)"}],
      "mark": {"type": "area", "orient": "horizontal", "fill": "#9dc89d", "stroke": "#777", "strokeWidth": 0.8},
      "encoding": {
       "y": {"field": "coverage", "type": "quantitative", "scale": {"domain": [0.7588, 0.9736], "nice": false, "zero": false}, "axis": {"values": [0.8, 0.85, 0.9, 0.95], "format": ".2f", "labelFontSize": 17, "tickSize": 4, "title": "Empirical Coverage", "titleFontSize": 16, "titlePadding": 4, "domain": false}},
       "x": {"field": "density", "type": "quantitative", "stack": "center", "impute": null, "scale": {"domain": [-18.5, 141.83], "nice": false, "zero": false}, "axis": null}
      }},
     {"transform": [{"filter": "datum.method === 'global' && isValid(datum.density)"}],
      "mark": {"type": "area", "orient": "horizontal", "fill": "#95b8d4", "stroke": "#777", "strokeWidth": 0.8},
      "encoding": {
       "y": {"field": "coverage", "type": "quantitative", "scale": {"domain": [0.7588, 0.9736], "nice": false, "zero": false}},
       "x": {"field": "density", "type": "quantitative", "stack": "center", "impute": null, "scale": {"domain": [-55.5, 104.83], "nice": false, "zero": false}, "axis": null}
      }},
     {"transform": [{"filter": "datum.method === 'dp' && isValid(datum.density)"}],
      "mark": {"type": "area", "orient": "horizontal", "fill": "#c8b4d9", "stroke": "#777", "strokeWidth": 0.8},
      "encoding": {
       "y": {"field": "coverage", "type": "quantitative", "scale": {"domain": [0.7588, 0.9736], "nice": false, "zero": false}},
       "x": {"field": "density", "type": "quantitative", "stack": "center", "impute": null, "scale": {"domain": [-103.5, 56.83], "nice": false, "zero": false}, "axis": null}
      }},
     {"transform": [{"filter": "isValid(datum.med)"}],
      "mark": {"type": "rule", "color": "#3a3a3a", "strokeWidth": 1.5},
      "encoding": {
       "x": {"field": "method", "type": "nominal", "scale": {"domain": ["local", "global", "dp"], "paddingInner": 0, "paddingOuter": 0.1667}, "axis": null},
       "y": {"field": "lo", "type": "quantitative", "scale": {"domain": [0.7588, 0.9736], "nice": false, "zero": false}},
       "y2": {"field": "hi"}}},
     {"transform": [{"filter": "isValid(datum.med)"}],
      "mark": {"type": "rule", "color": "#3a3a3a", "strokeWidth": 5},
      "encoding": {
       "x": {"field": "method", "type": "nominal", "scale": {"domain": ["local", "global", "dp"], "paddingInner": 0, "paddingOuter": 0.1667}, "axis": null},
       "y": {"field": "q1", "type": "quantitative", "scale": {"domain": [0.7588, 0.9736], "nice": false, "zero": false}},
       "y2": {"field": "q3"}}},
     {"transform": [{"filter": "isValid(datum.med)"}],
      "mark": {"type": "point", "filled": true, "color": "#ffffff", "size": 7, "opacity": 1},
      "encoding": {
       "x": {"field": "method", "type": "nominal", "scale": {"domain": ["local", "global", "dp"], "paddingInner": 0, "paddingOuter": 0.1667}, "axis": null},
       "y": {"field": "med", "type": "quantitative", "scale": {"domain": [0.7588, 0.9736], "nice": false, "zero": false}}}},
     {"transform": [{"filter": "isValid(datum.med) && datum.method === 'local'"}],
      "mark": {"type": "rule", "stroke": "#a00000", "strokeDash": [7, 4], "strokeWidth": 2},
      "encoding": {"y": {"datum": 0.9, "type": "quantitative", "scale": {"domain": [0.7588, 0.9736], "nice": false, "zero": false}}}}
    ]
   }}
 ], "spacing": 0, "bounds": "flush"}
]
}
